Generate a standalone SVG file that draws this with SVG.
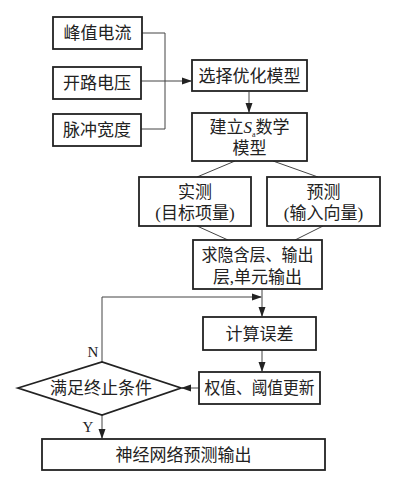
<svg xmlns="http://www.w3.org/2000/svg" width="400" height="481" viewBox="0 0 400 481">
<style>
.box{fill:#fff;stroke:#222;stroke-width:1.8}
.ln{fill:none;stroke:#444;stroke-width:1}
text{font-family:"Liberation Serif","Noto Sans CJK SC",serif;font-size:17px;fill:#222;text-anchor:middle}
.lbl{font-size:15px}
</style>
<defs>
<marker id="ar" markerWidth="10" markerHeight="8" refX="9" refY="4" orient="auto" markerUnits="userSpaceOnUse">
<path d="M0,0.5 L10,4 L0,7.5 Z" fill="#222"/>
</marker>
</defs>
<rect width="400" height="481" fill="#fff"/>
<g id="connectors">
<path class="ln" d="M142,33 H165 V129 H141"/>
<path class="ln" d="M141,81 H191" marker-end="url(#ar)"/>
<path class="ln" d="M249,92 V112" marker-end="url(#ar)"/>
<path class="ln" d="M235,161 L197,177"/>
<path class="ln" d="M273,161 L318,177"/>
<path class="ln" d="M197,226 L228,240"/>
<path class="ln" d="M323,226 L295,240"/>
<path class="ln" d="M262,289 V316" marker-end="url(#ar)"/>
<path class="ln" d="M102,362 V297 H261" marker-end="url(#ar)"/>
<path class="ln" d="M262,350 V371" marker-end="url(#ar)"/>
<path class="ln" d="M199,388 H182" marker-end="url(#ar)"/>
<path class="ln" d="M102,415 V438" marker-end="url(#ar)"/>
<text class="lbl" x="93" y="357">N</text>
<text class="lbl" x="88" y="432">Y</text>
</g>
<g id="n1"><rect class="box" x="53" y="17" width="89" height="32"/><text x="97.5" y="39">峰值电流</text></g>
<g id="n2"><rect class="box" x="53" y="67" width="88" height="32"/><text x="97" y="89">开路电压</text></g>
<g id="n3"><rect class="box" x="53" y="114" width="88" height="32"/><text x="97" y="136">脉冲宽度</text></g>
<g id="n4"><rect class="box" x="192" y="60" width="115" height="31"/><text x="249.5" y="82">选择优化模型</text></g>
<g id="n5"><rect class="box" x="192" y="113" width="115" height="48"/><text x="249.5" y="133">建立<tspan font-style="italic">S</tspan><tspan font-size="8" dy="4">a</tspan><tspan dy="-4">数学</tspan></text><text x="249.5" y="154">模型</text></g>
<g id="n6"><rect class="box" x="139" y="177" width="112" height="49"/><text x="195" y="198">实测</text><text x="195" y="219">(目标项量)</text></g>
<g id="n7"><rect class="box" x="267" y="177" width="113" height="49"/><text x="323.5" y="198">预测</text><text x="323.5" y="219">(输入向量)</text></g>
<g id="n8"><rect class="box" x="193" y="240" width="129" height="49"/><text x="257.5" y="261" textLength="112" lengthAdjust="spacingAndGlyphs">求隐含层、输出</text><text x="257.5" y="283">层,单元输出</text></g>
<g id="n9"><rect class="box" x="203" y="317" width="113" height="33"/><text x="259.5" y="340">计算误差</text></g>
<g id="n10"><rect class="box" x="199" y="372" width="121" height="32"/><text x="259.5" y="394" textLength="110" lengthAdjust="spacingAndGlyphs">权值、阈值更新</text></g>
<g id="n11"><polygon class="box" points="18,388 102,362 181,388 102,415"/><text x="101" y="394">满足终止条件</text></g>
<g id="n12"><rect class="box" x="42" y="439" width="283" height="31"/><text x="183.5" y="461">神经网络预测输出</text></g>
</svg>
